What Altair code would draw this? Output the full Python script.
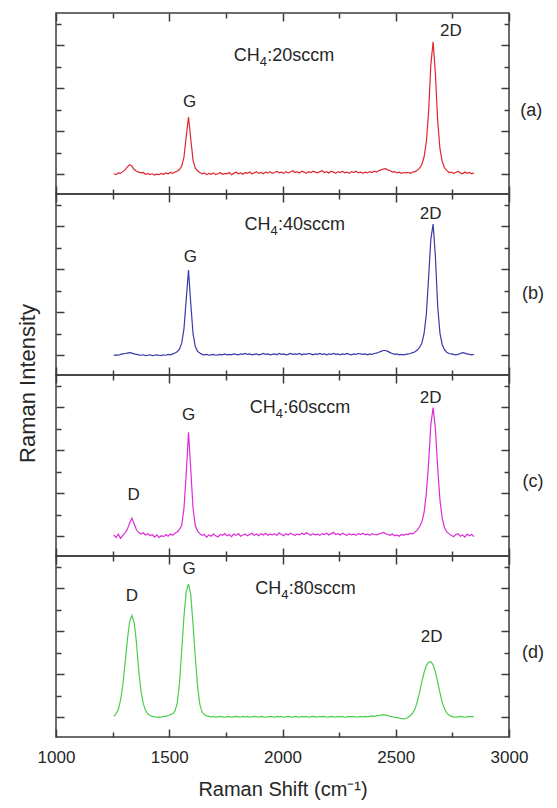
import altair as alt
import pandas as pd

# Raman shift grid (cm^-1), shared by all four spectra
shift = [
    1255, 1265, 1275, 1285, 1295, 1305, 1315, 1325, 1335, 1345,
    1355, 1365, 1375, 1385, 1395, 1405, 1415, 1425, 1435, 1445,
    1455, 1465, 1475, 1485, 1495, 1505, 1515, 1525, 1535, 1545,
    1555, 1565, 1575, 1585, 1595, 1605, 1615, 1625, 1635, 1645,
    1655, 1665, 1675, 1685, 1695, 1705, 1715, 1725, 1735, 1745,
    1755, 1765, 1775, 1785, 1795, 1805, 1815, 1825, 1835, 1845,
    1855, 1865, 1875, 1885, 1895, 1905, 1915, 1925, 1935, 1945,
    1955, 1965, 1975, 1985, 1995, 2005, 2015, 2025, 2035, 2045,
    2055, 2065, 2075, 2085, 2095, 2105, 2115, 2125, 2135, 2145,
    2155, 2165, 2175, 2185, 2195, 2205, 2215, 2225, 2235, 2245,
    2255, 2265, 2275, 2285, 2295, 2305, 2315, 2325, 2335, 2345,
    2355, 2365, 2375, 2385, 2395, 2405, 2415, 2425, 2435, 2445,
    2455, 2465, 2475, 2485, 2495, 2505, 2515, 2525, 2535, 2545,
    2555, 2565, 2575, 2585, 2595, 2605, 2615, 2625, 2635, 2645,
    2655, 2665, 2675, 2685, 2695, 2705, 2715, 2725, 2735, 2745,
    2755, 2765, 2775, 2785, 2795, 2805, 2815, 2825, 2835, 2845,
]

# (a) CH4: 20 sccm
int_a = [
    0.01, -0.01, 0.03, 0.02, 0.06, 0.10, 0.17, 0.22, 0.19, 0.11,
    0.07, 0.05, 0.03, 0.04, 0.00, 0.02, -0.01, 0.01, -0.02, 0.00,
    -0.01, 0.02, 0.00, 0.03, 0.01, 0.04, 0.02, 0.05, 0.07, 0.11,
    0.19, 0.40, 0.88, 1.33, 0.82, 0.33, 0.14, 0.08, 0.04, 0.01,
    0.03, -0.01, 0.02, 0.00, 0.03, -0.01, 0.01, 0.04, 0.00, 0.02,
    0.01, 0.04, -0.01, 0.02, 0.05, 0.01, 0.03, 0.00, 0.04, 0.02,
    0.05, 0.01, 0.03, 0.06, 0.02, 0.04, 0.01, 0.05, 0.03, 0.06,
    0.02, 0.04, 0.07, 0.03, 0.05, 0.02, 0.06, 0.03, 0.05, 0.08,
    0.04, 0.06, 0.03, 0.07, 0.05, 0.02, 0.06, 0.04, 0.07, 0.05,
    0.03, 0.06, 0.08, 0.04, 0.06, 0.03, 0.07, 0.05, 0.02, 0.06,
    0.04, 0.07, 0.03, 0.05, 0.02, 0.06, 0.04, 0.07, 0.03, 0.05,
    0.02, 0.05, 0.03, 0.06, 0.04, 0.07, 0.05, 0.08, 0.10, 0.12,
    0.13, 0.10, 0.08, 0.05, 0.06, 0.03, 0.05, 0.02, 0.04, 0.03,
    0.04, 0.02, 0.05, 0.06, 0.09, 0.14, 0.22, 0.40, 0.75, 1.45,
    2.55, 3.08, 2.35, 1.25, 0.60, 0.30, 0.15, 0.09, 0.04, 0.05,
    0.02, 0.04, 0.07, 0.03, 0.01, 0.05, 0.02, 0.04, 0.01, 0.03,
]

# (b) CH4: 40 sccm
int_b = [
    0.00, 0.01, 0.00, 0.02, 0.03, 0.04, 0.05, 0.06, 0.05, 0.03,
    0.02, 0.01, 0.00, 0.01, -0.01, 0.00, 0.01, -0.01, 0.00, 0.01,
    0.00, -0.01, 0.01, 0.00, 0.02, 0.01, 0.03, 0.05, 0.08, 0.14,
    0.28, 0.62, 1.30, 1.98, 1.20, 0.50, 0.20, 0.09, 0.05, 0.02,
    0.01, 0.02, 0.00, 0.01, 0.02, 0.00, 0.01, 0.02, 0.01, 0.03,
    0.01, 0.02, 0.01, 0.03, 0.02, 0.01, 0.03, 0.02, 0.04, 0.02,
    0.03, 0.01, 0.02, 0.03, 0.01, 0.02, 0.04, 0.02, 0.03, 0.01,
    0.02, 0.03, 0.01, 0.04, 0.02, 0.03, 0.01, 0.02, 0.04, 0.02,
    0.03, 0.02, 0.04, 0.01, 0.03, 0.02, 0.04, 0.03, 0.01, 0.03,
    0.02, 0.04, 0.02, 0.03, 0.01, 0.03, 0.02, 0.04, 0.02, 0.03,
    0.01, 0.03, 0.02, 0.04, 0.02, 0.01, 0.03, 0.02, 0.04, 0.03,
    0.02, 0.03, 0.01, 0.03, 0.02, 0.04, 0.05, 0.07, 0.09, 0.11,
    0.11, 0.09, 0.06, 0.04, 0.02, 0.03, 0.01, 0.02, 0.01, 0.02,
    0.03, 0.04, 0.06, 0.08, 0.12, 0.18, 0.28, 0.50, 0.95, 1.80,
    2.70, 3.05, 2.30, 1.15, 0.52, 0.25, 0.13, 0.07, 0.04, 0.03,
    0.02, 0.01, 0.02, 0.04, 0.06, 0.05, 0.03, 0.02, 0.01, 0.02,
]

# (c) CH4: 60 sccm
int_c = [
    0.03, -0.03, 0.05, -0.05, 0.02, 0.08, 0.16, 0.31, 0.42, 0.29,
    0.15, 0.09, 0.05, 0.08, 0.03, 0.06, 0.01, 0.04, -0.02, 0.03,
    -0.03, 0.01, -0.01, 0.04, 0.00, 0.05, 0.02, 0.07, 0.10, 0.16,
    0.25, 0.65, 1.45, 2.42, 1.55, 0.65, 0.25, 0.12, 0.06, 0.02,
    0.04, -0.02, 0.03, 0.00, 0.05, 0.01, -0.02, 0.04, 0.02, 0.06,
    0.01, 0.04, -0.01, 0.05, 0.02, 0.06, 0.00, 0.03, 0.05, 0.01,
    0.04, 0.07, 0.02, 0.05, 0.01, 0.06, 0.03, 0.07, 0.02, 0.05,
    0.03, 0.06, 0.02, 0.08, 0.04, 0.01, 0.06, 0.03, 0.07, 0.04,
    0.02, 0.05, 0.03, 0.07, 0.04, 0.08, 0.05, 0.02, 0.06, 0.03,
    0.05, 0.02, 0.06, 0.04, 0.07, 0.03, 0.06, 0.09, 0.04, 0.06,
    0.03, 0.07, 0.04, 0.02, 0.06, 0.03, 0.05, 0.02, 0.06, 0.04,
    0.07, 0.03, 0.05, 0.02, 0.06, 0.04, 0.03, 0.05, 0.07, 0.09,
    0.06, 0.04, 0.02, 0.05, 0.01, 0.03, 0.00, 0.04, 0.02, 0.05,
    0.04, 0.07, 0.05, 0.10, 0.14, 0.22, 0.33, 0.55, 1.00, 1.70,
    2.60, 2.99, 2.50, 1.60, 0.85, 0.42, 0.20, 0.10, 0.06, 0.02,
    -0.01, 0.04, 0.06, 0.00, 0.03, -0.02, 0.05, 0.01, 0.04, -0.01,
]

# (d) CH4: 80 sccm
int_d = [
    0.02, 0.08, 0.18, 0.40, 0.75, 1.25, 1.80, 2.22, 2.37, 2.20,
    1.75, 1.10, 0.62, 0.32, 0.16, 0.08, 0.04, 0.02, 0.01, 0.00,
    0.01, 0.00, 0.02, 0.02, 0.04, 0.06, 0.08, 0.14, 0.32, 0.78,
    1.55, 2.35, 2.92, 3.10, 2.85, 2.15, 1.40, 0.72, 0.30, 0.12,
    0.06, 0.03, 0.02, 0.01, 0.02, 0.00, 0.01, 0.02, 0.01, 0.00,
    0.01, 0.02, 0.00, 0.01, 0.02, 0.01, 0.00, 0.02, 0.01, 0.02,
    0.00, 0.01, 0.02, 0.01, 0.00, 0.02, 0.01, 0.00, 0.01, 0.02,
    0.01, 0.00, 0.02, 0.01, 0.02, 0.00, 0.01, 0.02, 0.01, 0.00,
    0.02, 0.01, 0.00, 0.02, 0.01, 0.02, 0.00, 0.01, 0.02, 0.01,
    0.00, 0.02, 0.01, 0.02, 0.00, 0.01, 0.02, 0.01, 0.00, 0.02,
    0.01, 0.02, 0.00, 0.01, 0.02, 0.01, 0.02, 0.00, 0.01, 0.02,
    0.01, 0.02, 0.01, 0.02, 0.03, 0.02, 0.03, 0.04, 0.05, 0.06,
    0.05, 0.04, 0.02, 0.01, 0.00, -0.01, -0.02, -0.03, -0.04, -0.03,
    0.00, 0.04, 0.10, 0.19, 0.36, 0.58, 0.82, 1.04, 1.20, 1.28,
    1.29, 1.22, 1.05, 0.82, 0.57, 0.35, 0.20, 0.10, 0.05, 0.02,
    0.01, 0.00, 0.01, 0.02, 0.01, 0.00, 0.01, 0.02, 0.01, 0.02,
]

panel_keys = ["a", "b", "c", "d"]
panel_tags = ["(a)", "(b)", "(c)", "(d)"]
panel_flows = [":20sccm", ":40sccm", ":60sccm", ":80sccm"]
panel_colors = ["#e0262e", "#3a3aa8", "#dd2ad8", "#4ccc4c"]
panel_series = [int_a, int_b, int_c, int_d]

# CH4 caption anchor (x of the subscript, y centre), panel tag position
flow_x = [1900, 1947, 1970, 1994]
flow_y = [2.75, 3.02, 2.99, 2.99]
tag_x = [3098, 3106, 3106, 3106]
tag_y = [1.46, 1.43, 1.25, 1.50]

# peak labels per panel
peak_text = [["G", "2D"], ["G", "2D"], ["D", "G", "2D"], ["D", "G", "2D"]]
peak_x = [[1590, 2743], [1593, 2654], [1343, 1585, 2654], [1335, 1588, 2658]]
peak_y = [[1.67, 3.33], [2.28, 3.28], [0.95, 2.82, 3.22], [2.82, 3.45, 1.86]]

x_major = [1000, 1500, 2000, 2500, 3000]
x_minor = [1250, 1750, 2250, 2750]
y_major = [0, 1, 2, 3]
y_minor = [0.5, 1.5, 2.5, 3.5]

W, H = 453, 181
FONT = "Liberation Sans"
INK = "#3c3c3c"
TXT = "#262626"
XS = alt.Scale(domain=[1000, 3000], nice=False, zero=False)
YS = alt.Scale(domain=[-0.46, 3.75], nice=False, zero=False)


def tick_axis(orient, values, size, **kw):
    return alt.Axis(orient=orient, values=values, tickSize=size, offset=-size,
                    grid=False, domain=False, labels=False, title=None,
                    tickColor=INK, tickWidth=1.5, **kw)


panels = []
for i, key in enumerate(panel_keys):
    df = pd.DataFrame({"x": shift, "y": panel_series[i]})
    last = key == "d"

    if last:
        xaxis = alt.Axis(orient="bottom", values=x_major, tickSize=8, offset=-8,
                         grid=False, domain=False, labels=True, labelFlush=False,
                         labelOverlap=False, labelFont=FONT, labelFontSize=17,
                         labelColor=TXT, labelPadding=12, format="d",
                         title="Raman Shift (cm\u207b\u00b9)", titleFont=FONT,
                         titleFontSize=20, titleFontWeight="normal",
                         titleColor=TXT, titlePadding=14,
                         tickColor=INK, tickWidth=1.5)
    else:
        xaxis = tick_axis("bottom", x_major, 8)

    if key == "b":
        yaxis = alt.Axis(orient="left", values=y_major, tickSize=8, offset=-8,
                         grid=False, domain=False, labels=False,
                         tickColor=INK, tickWidth=1.5,
                         title="Raman Intensity", titleFont=FONT, titleFontSize=22,
                         titleFontWeight="normal", titleColor=TXT,
                         titleAngle=270, titleAlign="center", titleBaseline="middle",
                         titleX=-37, titleY=H + 8)
    else:
        yaxis = tick_axis("left", y_major, 8)

    line = alt.Chart(df).mark_line(color=panel_colors[i], strokeWidth=1.2).encode(
        x=alt.X("x:Q", scale=XS, axis=xaxis),
        y=alt.Y("y:Q", scale=YS, axis=yaxis),
    )

    pk = pd.DataFrame({"x": peak_x[i], "y": peak_y[i], "t": peak_text[i]})
    peaks = alt.Chart(pk).mark_text(font=FONT, fontSize=17, color=TXT,
                                    baseline="middle").encode(
        x=alt.X("x:Q", scale=XS, axis=tick_axis("bottom", x_minor, 5)),
        y=alt.Y("y:Q", scale=YS, axis=tick_axis("left", y_minor, 5)),
        text="t:N",
    )

    cap = pd.DataFrame({"x": [flow_x[i]], "y": [flow_y[i]],
                        "ch": ["CH"], "sub": ["4"], "rest": [panel_flows[i]]})
    ch = alt.Chart(cap).mark_text(font=FONT, fontSize=18, color=TXT, align="right",
                                  baseline="middle").encode(
        x=alt.X("x:Q", scale=XS, axis=tick_axis("top", x_major, 8)),
        y=alt.Y("y:Q", scale=YS, axis=tick_axis("right", y_major, 8)),
        text="ch:N",
    )
    sub = alt.Chart(cap).mark_text(font=FONT, fontSize=13, color=TXT, align="left",
                                   baseline="middle", dy=6).encode(
        x=alt.X("x:Q", scale=XS, axis=tick_axis("top", x_minor, 5)),
        y=alt.Y("y:Q", scale=YS, axis=tick_axis("right", y_minor, 5)),
        text="sub:N",
    )
    rest = alt.Chart(cap).mark_text(font=FONT, fontSize=18, color=TXT, align="left",
                                    baseline="middle", dx=7.5).encode(
        x=alt.X("x:Q", scale=XS, axis=None),
        y=alt.Y("y:Q", scale=YS, axis=None),
        text="rest:N",
    )

    tg = pd.DataFrame({"x": [tag_x[i]], "y": [tag_y[i]], "t": [panel_tags[i]]})
    tag = alt.Chart(tg).mark_text(font=FONT, fontSize=18, color=TXT,
                                  baseline="middle").encode(
        x=alt.X("x:Q", scale=XS, axis=None),
        y=alt.Y("y:Q", scale=YS, axis=None),
        text="t:N",
    )

    panel = alt.layer(line, peaks, ch, sub, rest, tag).resolve_axis(
        x="independent", y="independent"
    ).properties(width=W, height=H)
    panels.append(panel)

chart = alt.vconcat(*panels, spacing=0, bounds="flush").configure_view(
    stroke=INK, strokeWidth=1.5
).properties(
    padding={"left": 7, "top": 3, "right": 2, "bottom": 2},
    background="white",
)

chart.save("out.html", embed_options={"renderer": "svg", "actions": False})
